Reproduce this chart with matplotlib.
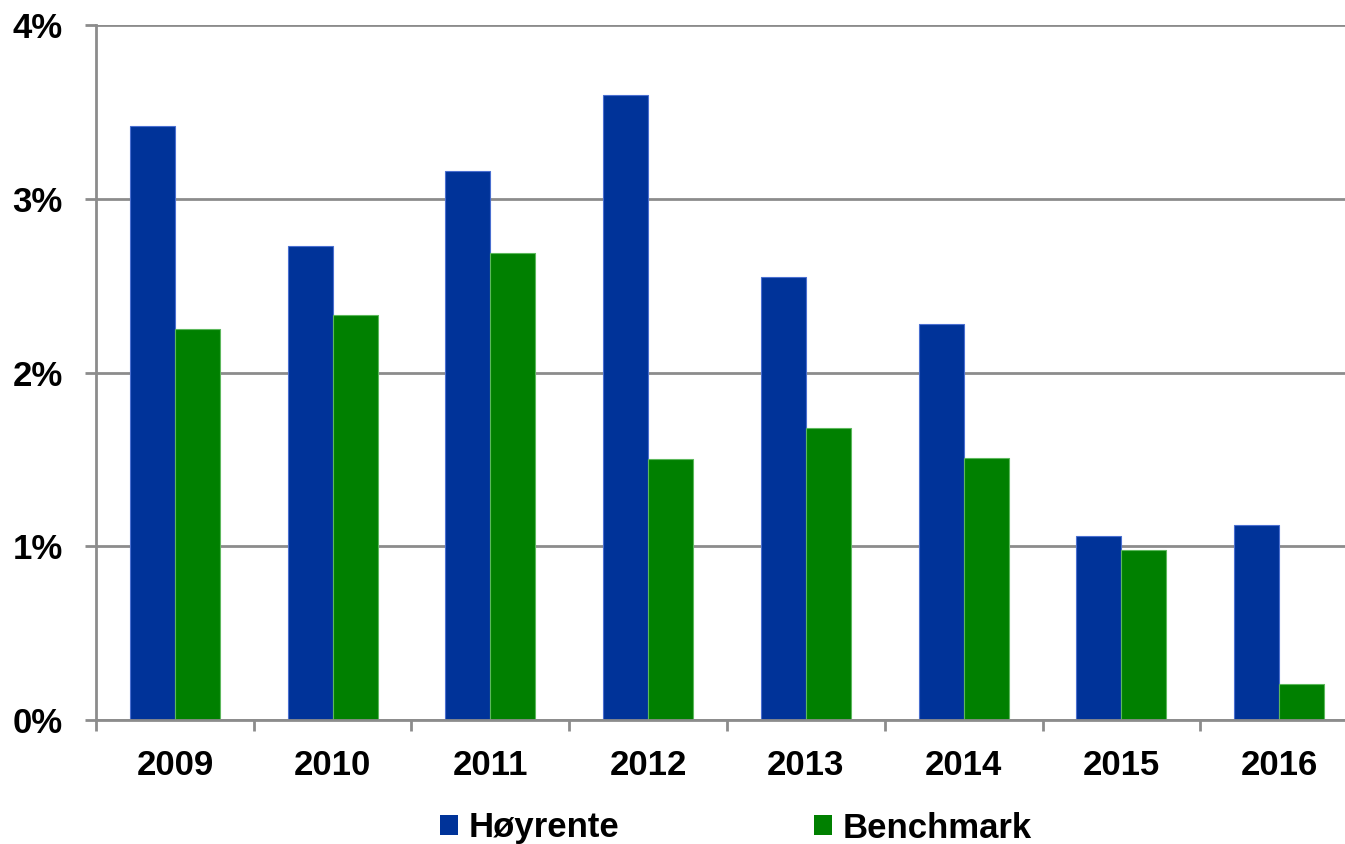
import matplotlib
matplotlib.use("Agg")
import matplotlib.pyplot as plt
import numpy as np
from matplotlib.patches import Patch

years = ["2009", "2010", "2011", "2012", "2013", "2014", "2015", "2016"]
hoyrente = [3.42, 2.73, 3.16, 3.60, 2.55, 2.28, 1.06, 1.12]
benchmark = [2.25, 2.33, 2.69, 1.50, 1.68, 1.51, 0.98, 0.21]
yticks = [0, 1, 2, 3, 4]
ytick_labels = ["0%", "1%", "2%", "3%", "4%"]

plt.rcParams['font.family'] = ['Liberation Sans', 'DejaVu Sans']
plt.rcParams['font.weight'] = 'bold'

BLUE = "#003399"
GREEN = "#008000"
GRAY = "#8c8c8c"

fig = plt.figure(figsize=(13.45, 8.44), dpi=100)
ax = fig.add_axes([96/1345, 1-720/844, 1262/1345, (720-25)/844])

x = np.arange(len(years))
w = 0.285
ax.bar(x - w/2, hoyrente, width=w, color=BLUE, edgecolor="#4a6fd0", linewidth=0.8, zorder=3)
ax.bar(x + w/2, benchmark, width=w, color=GREEN, edgecolor="#5cb85c", linewidth=0.8, zorder=3)

ax.set_xlim(-0.5, 7.5)
ax.set_ylim(0, 4)
ax.set_yticks(yticks)
ax.set_yticklabels(ytick_labels, fontsize=25, fontweight='bold')
ax.set_xticks(x)
ax.set_xticklabels(years, fontsize=25, fontweight='bold')
ax.set_xticks(np.arange(-0.5, 8, 1), minor=True)
ax.tick_params(axis='x', which='major', length=0, pad=21)
ax.tick_params(axis='x', which='minor', length=8, width=2, color=GRAY, direction='out')
ax.tick_params(axis='y', length=8, width=2, color=GRAY, pad=16)

ax.grid(axis='y', color=GRAY, linewidth=2, zorder=0)
for s in ['top', 'right']:
    ax.spines[s].set_visible(False)
for s in ['left', 'bottom']:
    ax.spines[s].set_color(GRAY)
    ax.spines[s].set_linewidth(2)
ax.spines['bottom'].set_zorder(4)

handles = [Patch(facecolor=BLUE, label="Høyrente"), Patch(facecolor=GREEN, label="Benchmark")]
leg = fig.legend(handles=handles, loc='center', bbox_to_anchor=(736/1345, 1-828/844), ncol=2,
                 frameon=False, fontsize=25, handlelength=0.52, handleheight=0.52,
                 handletextpad=0.3, columnspacing=5.6, borderaxespad=0, borderpad=0)
for t in leg.get_texts():
    t.set_fontweight('bold')

fig.savefig("out.png", dpi=100)
